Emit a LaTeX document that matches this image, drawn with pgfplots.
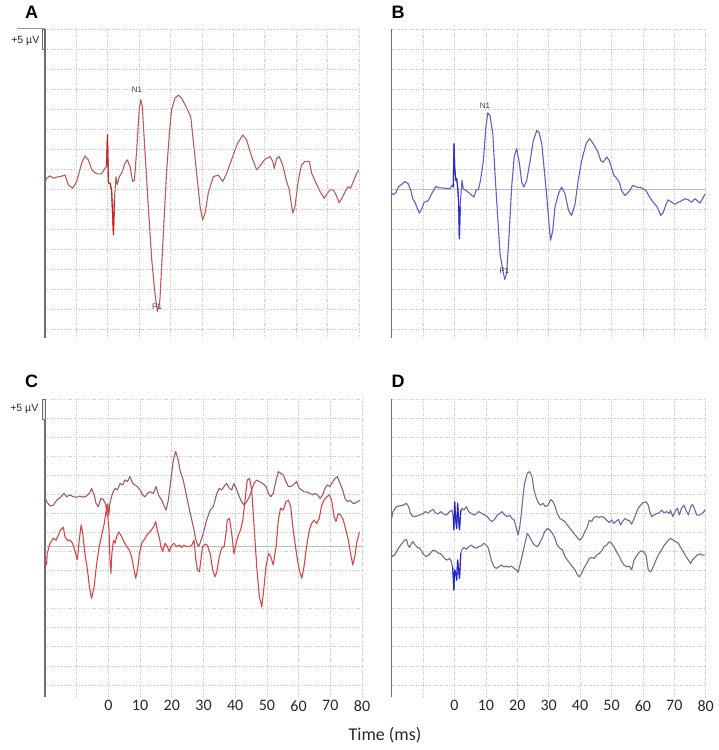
\documentclass[border=0pt]{standalone}
\usepackage{fontspec}
\setmainfont{Carlito}
\newfontfamily\arial{Liberation Sans}
\usepackage{pgfplots}
\pgfplotsset{compat=1.18}

\definecolor{trA}{RGB}{186,92,92}
\definecolor{trAhi}{RGB}{210,30,30}
\definecolor{trB}{RGB}{96,96,200}
\definecolor{trBhi}{RGB}{40,40,210}
\definecolor{trCup}{RGB}{160,90,98}
\definecolor{trClo}{RGB}{216,70,70}
\definecolor{trD}{RGB}{106,108,160}
\definecolor{trDhi}{RGB}{35,35,200}
\definecolor{gridc}{RGB}{200,200,200}
\definecolor{axc}{RGB}{110,110,110}
\definecolor{zeroc}{RGB}{190,190,190}
\definecolor{labc}{RGB}{40,40,40}

\pgfplotsset{
  eeg/.style={
    scale only axis,
    xmin=-20, xmax=80,
    axis x line*=bottom, axis y line*=left,
    x axis line style={draw=none},
    y axis line style={draw=axc, line width=1.3pt},
    xtick={-10,0,...,80}, ytick={-35,-30,...,40},
    xticklabels={}, yticklabels={},
    major tick length=0pt,
    xmajorgrids, ymajorgrids,
    grid style={gridc, line width=0.7pt, dash pattern=on 0.8pt off 1.6pt},
    xticklabel style={font=\fontsize{16}{16}\selectfont, text=labc},
    every axis plot/.append style={line width=1.1pt, line join=round, mark=none},
  },
  toprow/.style={eeg, height=308.7pt, ymin=-37.1, ymax=40},
  botrow/.style={eeg, height=297.4pt, ymin=-38.1, ymax=40,
    xticklabels={,0,10,20,30,40,50,60,70,80}},
}

\begin{document}
\begin{tikzpicture}
\path[use as bounding box] (0pt,0pt) rectangle (719pt,-750pt);

% ---- A ----
\begin{axis}[toprow, width=314pt, at={(45pt,-29.3pt)}, anchor=north west]
\addplot[trA] coordinates {
(-20,1.7) (-19.5,2.8) (-18.4,3.4) (-17.3,2.8) (-16.3,3.1) (-15.2,3.2) (-13.6,3.6) (-12.6,1.2)
(-11.2,0.3) (-9.9,2.0) (-8.3,6.6) (-7.3,8.4) (-6.2,7.4) (-5.1,4.9) (-3.5,3.9) (-2.0,3.9)
(-0.9,5.3) (-0.4,5.7) (-0.1,13.6) (0.2,1.6) (0.7,1.6) (1.2,-0.1) (1.8,-11.3) (2.1,-2.6)
(2.6,3.2) (3.0,1.2) (3.7,3.2) (4.4,4.1) (5.5,6.6) (6.2,7.4) (7.1,5.7) (7.9,2.0) (8.5,2.4)
(9.2,9.9) (10.0,19.9) (10.5,22.4) (11.0,20.7) (11.8,9.9) (12.9,-4.3) (14.0,-17.6) (15.0,-25.9)
(15.8,-30.5) (16.6,-27.6) (17.7,-10.9) (18.7,4.1) (19.6,14.0) (20.3,19.9) (21.4,22.8) (22.5,23.6)
(23.5,22.8) (24.9,20.7) (26.4,18.2) (27.2,12.4) (28.3,4.1) (29.4,-4.3) (30.2,-7.6) (31.0,-5.9)
(32.0,-0.9) (33.6,3.2) (35.2,3.6) (36.6,2.0) (37.9,4.1) (39.4,7.4) (41.3,11.5) (43.0,13.6)
(44.2,12.4) (45.8,8.2) (47.4,4.9) (48.7,6.1) (50.1,7.6) (51.7,8.2) (52.5,7.0) (53.0,5.3)
(53.8,7.8) (54.6,8.2) (55.7,6.1) (56.8,2.4) (57.8,-0.1) (58.9,-5.9) (59.6,-4.3) (60.7,2.4)
(61.7,6.1) (62.8,7.0) (64.2,7.0) (64.9,4.1) (66.3,1.6) (67.6,-0.5) (68.9,-2.2) (70.0,-0.9)
(70.8,-0.1) (71.8,-0.1) (72.7,-1.4) (73.7,-3.3) (74.8,-1.8) (75.9,-0.1) (76.6,0.7) (77.3,0.3)
(78.2,2.0) (79.3,4.1) (80.0,4.9)
};
\addplot[trAhi] coordinates {
(-0.4,5.7) (-0.1,13.6) (0.2,1.6) (0.7,1.6) (1.2,-0.1) (1.8,-11.3) (2.1,-2.6)
};
\node[font=\arial\fontsize{8}{8}\selectfont, text=darkgray] at (axis cs:9.3,25.0) {N1};
\node[font=\arial\fontsize{8}{8}\selectfont, text=darkgray] at (axis cs:15.7,-29.3) {P1};
\end{axis}

% ---- B ----
\begin{axis}[toprow, width=314pt, at={(391.7pt,-29.3pt)}, anchor=north west]
\addplot[zeroc, line width=1pt] coordinates {(-20,0) (80,0)};
\addplot[trB] coordinates {
(-20,-0.9) (-19.5,-1.3) (-18.6,-0.7) (-17.9,0.6) (-16.8,1.3) (-15.8,2.0) (-14.7,1.4) (-13.9,-0.3)
(-13.3,-2.3) (-12.6,-3.2) (-11.8,-4.8) (-11.2,-5.9) (-10.4,-4.8) (-9.7,-3.2) (-8.3,-2.8) (-7.6,-1.5)
(-6.7,-0.3) (-5.9,0.8) (-5.1,0.4) (-4.1,0.4) (-2.7,0.3) (-1.4,0.2) (-0.9,1.0) (-0.4,0.6)
(-0.15,11.4) (0.06,5.6) (0.4,2.3) (0.7,2.7) (1.0,0.6) (1.3,-2.8) (1.55,-12.3) (1.8,-4.4)
(2.1,-0.7) (2.4,2.3) (2.8,0.2) (3.7,-0.3) (4.4,-0.7) (5.5,-1.5) (6.2,-1.9) (6.9,-0.1) (7.6,-0.1)
(8.3,2.3) (9.2,7.2) (10.0,15.6) (10.6,19.1) (11.3,18.5) (12.2,13.9) (12.9,3.9) (13.7,-6.1)
(14.5,-16.1) (15.4,-20.2) (16.0,-22.5) (16.6,-21.0) (17.4,-11.1) (18.2,0.6) (19.0,8.1) (19.8,10.2)
(20.7,6.4) (21.4,1.8) (22.1,0.6) (23.0,2.3) (24.1,7.2) (25.1,12.2) (26.2,14.7) (26.9,14.3)
(27.8,11.4) (28.5,5.6) (29.4,-1.9) (30.1,-8.6) (30.6,-12.7) (31.3,-10.2) (32.0,-4.4) (33.1,-1.1)
(34.1,0.6) (35.2,-1.1) (36.3,-5.2) (37.3,-6.5) (38.4,-3.6) (39.4,2.3) (40.5,7.2) (41.9,11.4)
(43.0,12.7) (44.2,11.4) (45.5,9.7) (46.6,7.2) (47.4,6.8) (48.5,8.1) (49.3,7.2) (50.1,5.2)
(50.8,3.5) (51.7,2.7) (52.5,1.8) (53.2,-0.3) (54.3,-1.5) (55.4,-0.7) (56.8,1.0) (58.0,0.6)
(59.6,0.4) (61.0,-0.3) (62.1,-1.9) (63.3,-3.2) (64.6,-4.4) (65.7,-6.5) (66.5,-5.7) (67.4,-3.6)
(68.1,-2.6) (69.2,-3.2) (70.2,-3.7) (71.3,-3.2) (72.4,-2.8) (73.4,-2.3) (74.5,-2.6) (75.5,-3.2)
(76.6,-2.3) (77.3,-2.8) (78.2,-3.4) (79.0,-2.3) (79.8,-1.1)
};
\addplot[trBhi] coordinates {
(-0.4,0.6) (-0.15,11.4) (0.06,5.6) (0.4,2.3) (0.7,2.7) (1.0,0.6) (1.3,-2.8) (1.55,-12.3) (1.8,-4.4)
};
\node[font=\arial\fontsize{8}{8}\selectfont, text=darkgray] at (axis cs:9.7,20.8) {N1};
\node[font=\arial\fontsize{8}{8}\selectfont, text=darkgray] at (axis cs:15.9,-20.4) {P1};
\end{axis}

% ---- C ----
\begin{axis}[botrow, width=317pt, at={(45pt,-399.3pt)}, anchor=north west]
\addplot[zeroc, line width=1pt] coordinates {(-20,1.3) (80,1.3)};
\addplot[trCup] coordinates {
(-20,14.4) (-19.5,13.1) (-18.4,12.0) (-17.4,12.2) (-16.3,13.5) (-15.1,14.3) (-14.0,15.3) (-13.2,14.4)
(-12.1,14.9) (-11.1,14.4) (-10.0,14.3) (-9.0,14.6) (-7.9,14.3) (-6.9,14.6) (-6.0,15.3) (-5.3,16.6)
(-4.5,14.9) (-3.9,12.7) (-3.2,11.8) (-2.4,14.0) (-1.6,13.7) (-1.0,12.7) (-0.5,11.8) (0.0,10.5)
(0.7,13.5) (1.3,15.3) (2.1,16.6) (2.8,16.2) (3.7,17.9) (4.5,17.5) (5.2,18.8) (6.0,18.4) (6.8,19.7)
(7.7,17.9) (8.4,17.5) (9.1,17.1) (10.0,16.2) (10.8,14.9) (11.5,14.4) (12.3,15.3) (13.1,15.7)
(14.2,15.3) (15.0,17.1) (15.8,14.9) (16.8,13.5) (17.5,12.2) (18.2,10.9) (18.9,13.5) (19.7,18.8)
(20.5,24.1) (21.2,26.3) (21.9,24.5) (22.6,21.4) (23.6,18.8) (24.7,14.4) (25.7,10.5) (26.8,6.5)
(27.6,3.0) (28.4,1.3) (28.9,2.2) (29.95,4.8) (31.0,8.3) (32.1,10.9) (33.1,11.8) (34.2,15.3)
(35.0,16.6) (35.7,16.2) (36.5,17.1) (37.3,17.9) (38.2,16.6) (38.9,16.2) (39.6,17.9) (40.5,16.2)
(41.3,14.4) (42.0,13.1) (42.8,12.2) (43.6,13.1) (44.5,14.4) (45.2,16.2) (45.9,17.9) (46.8,18.8)
(47.6,18.4) (48.7,17.9) (49.7,17.1) (50.5,15.3) (51.2,14.4) (52.0,15.3) (52.9,18.8) (53.6,21.0)
(54.3,20.6) (55.2,20.1) (56.0,18.4) (56.8,17.1) (57.5,17.1) (58.3,17.5) (59.4,18.4) (60.2,16.6)
(61.0,16.2) (61.7,15.7) (62.5,15.7) (63.6,15.3) (64.4,14.9) (65.2,15.3) (65.9,14.9) (66.8,14.0)
(67.6,14.9) (68.3,16.6) (69.1,17.5) (69.9,17.1) (70.8,18.4) (71.5,19.2) (72.2,19.7) (73.1,17.9)
(73.9,16.2) (74.6,14.0) (75.4,13.1) (76.2,13.5) (77.1,12.7) (77.8,12.7) (78.5,13.1) (79.4,13.5)
};
\addplot[trClo] coordinates {
(-0.8,12.2) (-0.5,10.0) (-0.2,12.5) (0.1,9.5) (0.4,11.5)
};
\addplot[trClo] coordinates {
(-20,-2.2) (-19.5,-3.5) (-19.3,-0.5) (-18.4,2.2) (-17.4,3.5) (-16.5,3.0) (-15.8,4.3) (-15.1,5.7)
(-14.2,6.4) (-13.7,3.9) (-13.0,3.0) (-12.1,3.0) (-11.3,2.2) (-10.5,0.0) (-9.8,-2.2) (-9.2,3.0)
(-8.6,7.0) (-8.1,4.8) (-7.4,-0.5) (-6.6,-4.8) (-6.0,-9.2) (-5.3,-12.3) (-4.5,-9.2) (-3.7,-3.1)
(-2.9,1.3) (-2.0,4.8) (-1.3,7.4) (-0.8,10.5) (-0.2,9.2) (0.2,5.7) (0.5,-2.2) (0.8,-5.7) (1.1,-0.5)
(1.6,3.0) (2.1,2.2) (2.6,3.9) (3.3,5.2) (4.2,3.9) (4.9,2.6) (5.8,1.3) (6.6,0.4) (7.3,-1.3)
(8.1,-4.8) (8.6,-7.0) (9.2,-4.8) (9.8,-0.5) (10.5,2.2) (11.2,3.0) (12.1,4.3) (13.1,5.2) (14.2,6.4)
(14.9,7.9) (15.4,5.7) (16.1,3.5) (16.6,1.3) (17.1,0.0) (17.9,2.2) (18.6,1.3) (19.2,0.0) (20.0,1.7)
(20.7,2.2) (21.5,1.3) (22.4,1.7) (23.1,1.1) (23.8,1.7) (24.7,1.3) (25.5,1.3) (26.3,1.7) (27.0,3.0)
(27.6,-2.2) (28.1,-4.8) (28.7,-5.3) (28.9,-4.0) (29.7,1.3) (30.5,2.0) (31.2,1.7) (32.1,-0.5)
(32.9,-4.8) (33.6,-6.6) (34.2,-5.3) (35.0,-1.3) (35.7,0.9) (36.5,1.3) (37.1,4.8) (37.5,8.3)
(38.2,8.7) (38.9,4.8) (39.6,-0.5) (40.3,2.2) (41.0,4.3) (41.7,5.7) (42.4,8.3) (43.1,13.5)
(43.8,18.8) (44.5,19.2) (45.2,16.2) (45.9,7.4) (46.8,-4.0) (47.6,-11.8) (48.4,-14.5) (49.1,-9.2)
(49.7,-4.0) (50.5,-0.5) (51.2,-1.3) (52.0,-3.5) (52.9,1.3) (53.6,8.3) (54.3,11.4) (55.2,10.9)
(56.0,13.1) (56.8,13.5) (57.5,11.8) (58.3,5.7) (59.4,-0.9) (60.2,-4.8) (61.0,-7.0) (61.7,-4.0)
(62.5,1.3) (63.4,5.7) (64.1,7.4) (64.9,8.3) (65.7,7.4) (66.5,8.7) (67.3,12.2) (68.0,13.5)
(68.9,14.4) (69.7,14.9) (70.4,13.5) (71.2,9.2) (71.8,7.9) (72.5,10.0) (73.3,9.6) (74.1,8.3)
(74.9,5.7) (75.7,3.0) (76.4,-0.5) (77.1,-3.5) (77.8,-0.9) (78.3,2.2) (79.2,5.2)
};
\end{axis}

% ---- D ----
\begin{axis}[botrow, width=314pt, at={(391.7pt,-399.3pt)}, anchor=north west]
\addplot[trD] coordinates {
(-20,8.7) (-19.6,10.5) (-18.5,11.8) (-17.5,12.0) (-16.4,12.2) (-15.3,12.7) (-14.6,11.8) (-14.0,10.0)
(-13.2,9.2) (-12.2,9.3) (-11.1,9.6) (-10.0,10.0) (-9.3,10.5) (-8.4,10.2) (-7.6,10.7) (-6.8,11.1)
(-6.1,10.2) (-5.3,9.9) (-4.4,10.5) (-3.7,10.0) (-2.6,9.6) (-1.6,10.5) (-0.8,10.9) (-0.4,9.2)
(-0.2,5.7) (0.05,13.1) (0.4,8.3) (0.7,6.1) (1.0,12.7) (1.3,8.7) (1.6,5.7) (2.0,10.9) (2.4,11.4)
(3.0,10.9) (3.8,11.8) (4.5,10.5) (5.4,10.0) (6.2,9.6) (7.0,10.0) (7.7,10.5) (8.8,10.0) (9.6,9.6)
(10.5,9.2) (11.2,8.3) (12.0,7.9) (12.8,8.5) (13.6,9.6) (14.4,10.0) (15.1,10.5) (16.0,9.6) (16.8,9.2)
(17.6,9.6) (18.3,8.7) (19.0,8.3) (19.7,6.1) (20.2,4.4) (20.7,6.1) (21.3,10.0) (21.8,14.4) (22.3,17.9)
(23.2,20.6) (23.9,21.0) (24.7,19.7) (25.3,16.2) (26.1,14.0) (26.8,12.7) (27.4,12.2) (28.2,12.7)
(28.9,11.8) (29.8,12.2) (30.6,13.7) (31.4,13.1) (32.0,12.0) (32.7,10.0) (33.6,8.7) (34.4,8.3)
(35.2,7.9) (35.9,7.0) (36.8,6.1) (37.6,5.2) (38.4,4.4) (39.1,3.7) (39.9,3.0) (40.8,3.9) (41.5,5.2)
(42.3,6.5) (42.9,8.3) (43.7,7.9) (44.4,9.0) (45.3,9.2) (46.1,9.0) (46.9,9.2) (47.6,9.0) (48.4,8.3)
(49.3,7.6) (50.0,8.3) (50.8,7.4) (51.4,7.9) (52.2,8.5) (52.9,7.0) (53.5,7.9) (54.3,8.7) (55.0,8.3)
(55.7,8.1) (56.4,7.2) (57.2,8.7) (57.8,10.0) (58.5,11.4) (59.3,12.2) (60.1,12.9) (61.0,13.1)
(61.7,12.2) (62.2,10.5) (62.8,9.2) (63.5,9.6) (64.4,10.0) (65.2,10.2) (66.0,10.9) (66.7,10.2)
(67.6,10.5) (68.4,10.0) (68.8,10.9) (69.5,9.2) (70.2,10.5) (71.0,11.4) (71.6,9.6) (72.3,11.4)
(73.1,12.2) (73.7,10.9) (74.5,9.6) (75.2,11.8) (75.8,12.4) (76.6,10.9) (77.1,9.6) (78.0,9.6)
(78.7,9.9) (79.4,10.5) (79.9,11.1)
};
\addplot[trD] coordinates {
(-20,-0.9) (-19.9,-1.3) (-19.1,-0.9) (-18.2,0.4) (-17.5,1.3) (-16.7,2.2) (-15.9,3.0) (-15.3,3.2)
(-14.8,1.7) (-14.3,1.1) (-13.7,2.2) (-13.2,2.6) (-12.5,1.7) (-11.8,1.1) (-11.1,0.9) (-10.4,0.0)
(-9.7,-0.9) (-9.0,-1.3) (-8.2,-0.9) (-7.6,-0.3) (-6.8,0.4) (-6.1,0.2) (-5.3,-0.3) (-4.4,-0.6)
(-3.7,-1.2) (-2.9,-2.0) (-2.3,-2.2) (-1.5,-1.8) (-1.0,-2.6) (-0.6,-4.0) (-0.4,-6.6) (-0.2,-10.1)
(0.05,-4.8) (0.4,-5.7) (0.7,-7.5) (1.0,-2.2) (1.3,-4.8) (1.6,-7.0) (2.0,-0.5) (2.4,0.6) (3.0,1.1)
(3.8,0.6) (4.5,1.3) (5.4,1.7) (6.2,1.1) (7.0,0.9) (7.7,1.3) (8.5,1.5) (9.4,2.2) (10.1,1.7)
(10.7,1.1) (11.2,-0.5) (11.7,-2.2) (12.6,-4.0) (13.3,-4.4) (14.1,-4.0) (14.9,-3.5) (15.8,-4.0)
(16.5,-3.8) (17.3,-4.1) (18.1,-3.8) (19.0,-4.4) (19.7,-4.8) (20.2,-5.5) (20.7,-4.0) (21.5,-1.3)
(22.3,1.7) (23.2,4.8) (23.9,3.9) (24.7,2.6) (25.5,1.7) (26.4,1.3) (27.1,2.2) (27.9,3.5) (28.7,5.2)
(29.6,6.1) (30.3,5.7) (31.2,4.8) (32.0,3.5) (32.7,1.7) (33.6,0.9) (34.4,0.4) (35.2,-1.3)
(35.9,-2.2) (36.8,-3.1) (37.6,-4.0) (38.4,-4.8) (39.1,-6.1) (39.7,-6.6) (40.5,-5.7) (41.2,-4.4)
(42.1,-3.1) (42.9,-1.8) (43.7,-1.5) (44.4,-1.8) (45.3,-0.9) (46.1,-0.5) (46.9,0.2) (47.6,1.3)
(48.4,1.7) (49.3,2.6) (50.0,2.2) (50.8,1.3) (51.6,0.0) (52.5,-1.3) (53.2,-2.6) (54.0,-3.5)
(54.8,-4.0) (55.7,-3.8) (56.4,-4.8) (57.2,-2.2) (57.8,-1.3) (58.5,-0.5) (59.3,0.2) (60.1,0.0)
(61.0,-0.9) (61.7,-4.8) (62.5,-5.3) (63.3,-4.0) (64.2,-2.2) (64.9,-0.9) (65.6,0.0) (66.5,1.3)
(67.3,2.2) (68.1,3.0) (68.8,3.5) (69.7,3.0) (70.5,2.6) (71.3,2.2) (72.0,1.1) (72.9,0.0) (73.7,-1.3)
(74.5,-2.2) (75.2,-3.1) (75.8,-2.2) (76.6,-1.5) (77.3,-0.9) (78.2,-0.6) (79.0,-0.9) (79.8,-0.9)
};
\addplot[trDhi] coordinates {
(-0.4,9.2) (-0.2,5.7) (0.05,13.1) (0.4,8.3) (0.7,6.1) (1.0,12.7) (1.3,8.7) (1.6,5.7) (2.0,10.9)
};
\addplot[trDhi] coordinates {
(-0.6,-4.0) (-0.4,-6.6) (-0.2,-10.1) (0.05,-4.8) (0.4,-5.7) (0.7,-7.5) (1.0,-2.2) (1.3,-4.8) (1.6,-7.0) (2.0,-0.5)
};
\end{axis}

% panel letters, scale bars, axis title
\node[font=\arial\bfseries\fontsize{18}{18}\selectfont] at (31.5pt,-12pt) {A};
\node[font=\arial\bfseries\fontsize{18}{18}\selectfont] at (398pt,-12pt) {B};
\node[font=\arial\bfseries\fontsize{18}{18}\selectfont] at (31.5pt,-381.5pt) {C};
\node[font=\arial\bfseries\fontsize{18}{18}\selectfont] at (398pt,-381.5pt) {D};

\draw[axc!70, line width=0.7pt] (17pt,-28.6pt) -- (45pt,-28.6pt);
\draw[axc, line width=0.8pt] (42.3pt,-29.3pt) rectangle (45.3pt,-49.5pt);
\node[font=\arial\fontsize{10.5}{10.5}\selectfont, text=labc, anchor=east, inner sep=0pt] at (39.5pt,-40.5pt) {+5 µV};

\draw[axc, line width=0.8pt, fill=gray!15] (42.3pt,-399.3pt) rectangle (45.3pt,-419pt);
\node[font=\arial\fontsize{10.5}{10.5}\selectfont, text=labc, anchor=east, inner sep=0pt] at (38.5pt,-409pt) {+5 µV};

\node[font=\fontsize{18}{18}\selectfont, text=labc] at (385pt,-735pt) {Time (ms)};
\end{tikzpicture}
\end{document}
